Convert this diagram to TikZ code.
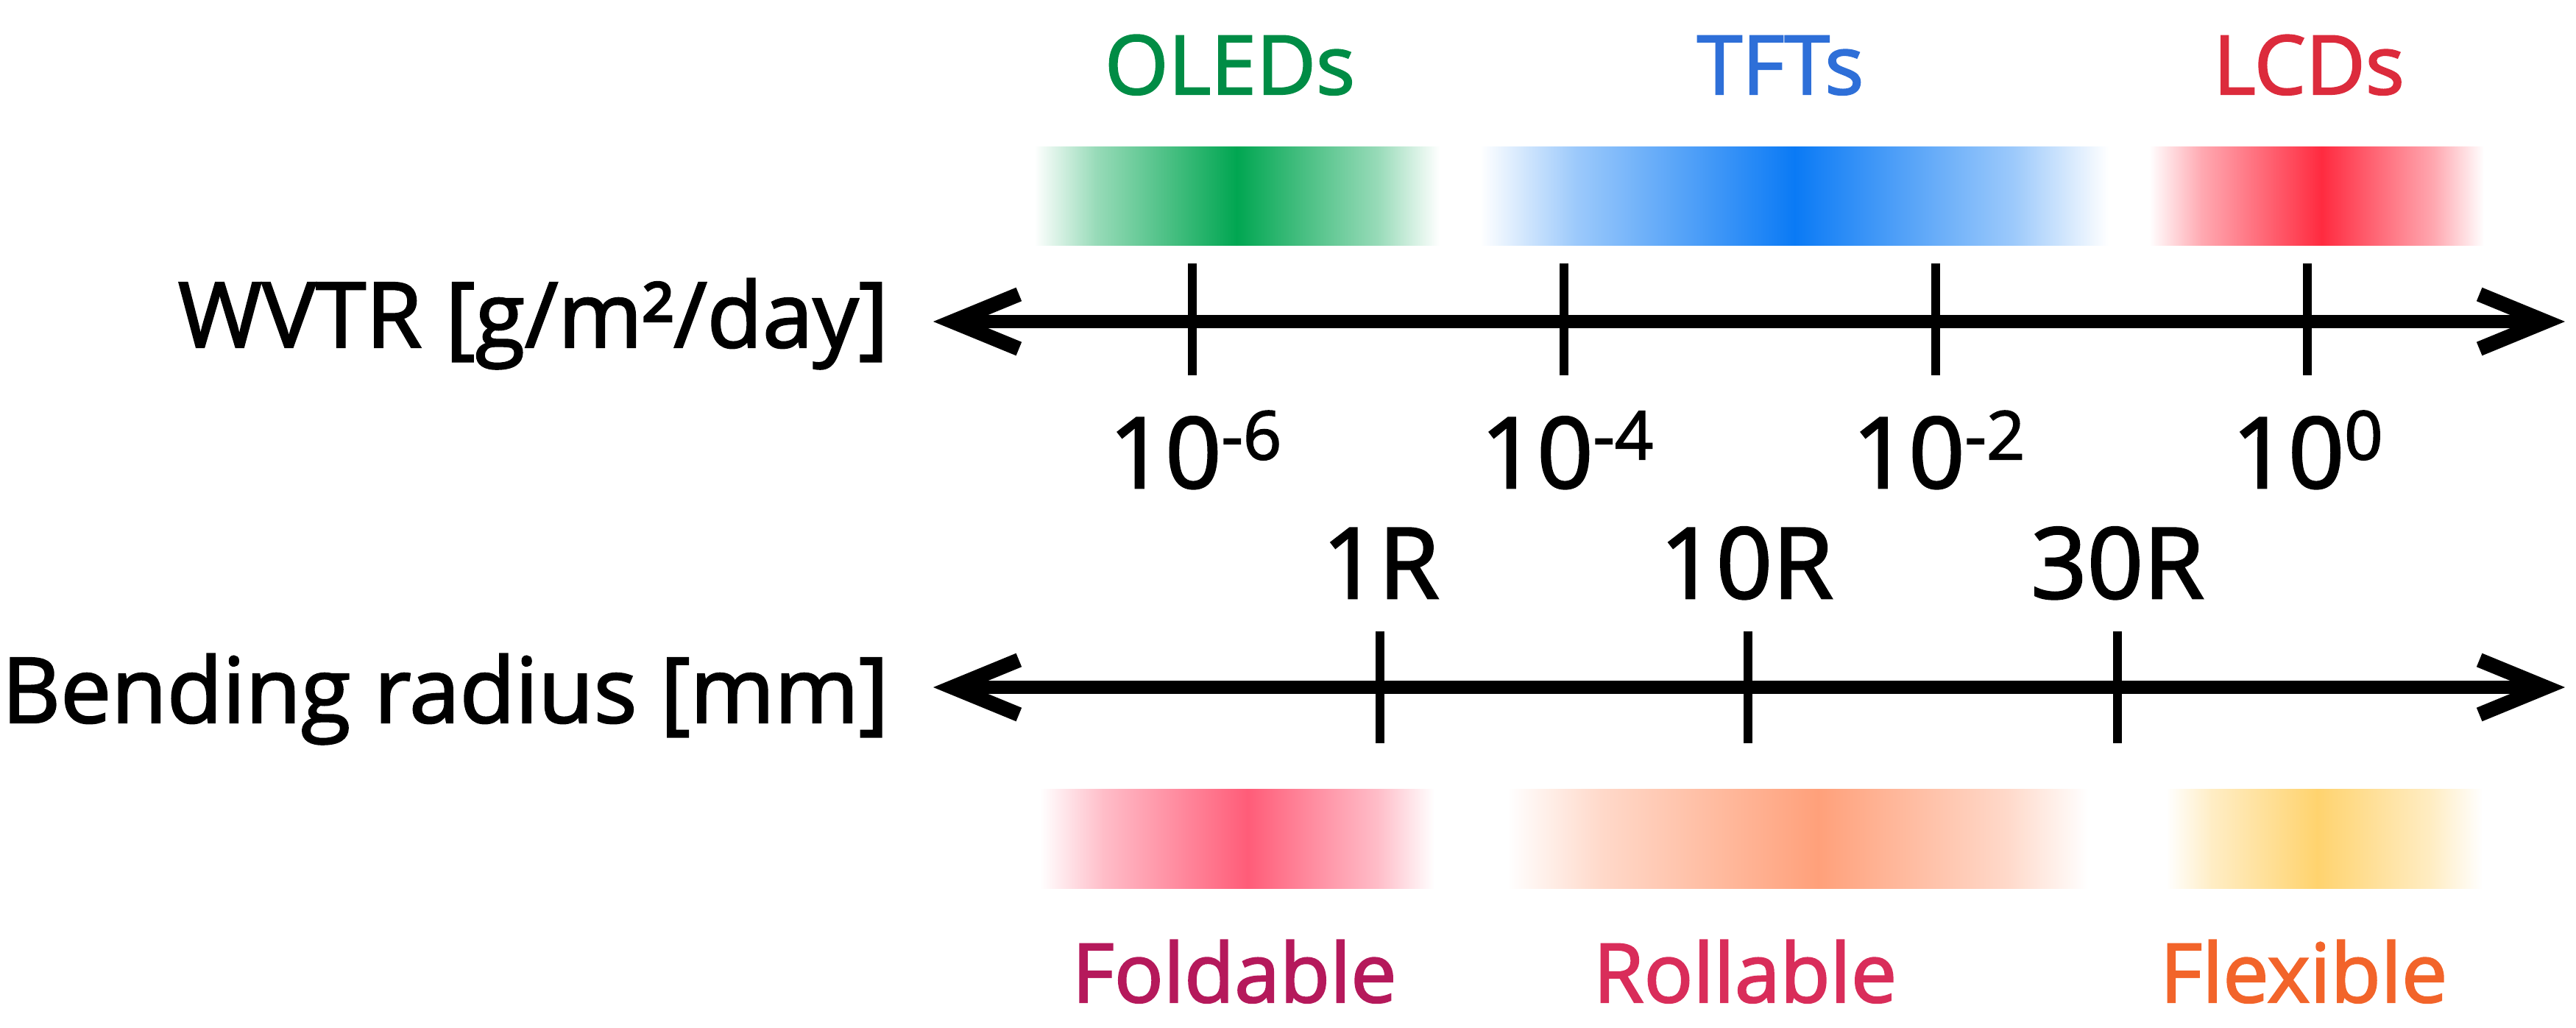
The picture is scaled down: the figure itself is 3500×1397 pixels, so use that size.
\documentclass[tikz,border=0pt]{standalone}
\usepackage{fontspec}
\setmainfont{Open Sans}[FakeBold=2]
\usetikzlibrary{arrows.meta}
\definecolor{oledT}{HTML}{008C45}
\definecolor{tftT}{HTML}{2E6FD8}
\definecolor{lcdT}{HTML}{DC2B3C}
\definecolor{foldT}{HTML}{B5195B}
\definecolor{rollT}{HTML}{D92D5A}
\definecolor{flexT}{HTML}{F2642A}
\definecolor{oledB}{HTML}{00A651}
\definecolor{tftB}{HTML}{0A7AF5}
\definecolor{lcdB}{HTML}{FF2A3F}
\definecolor{foldB}{HTML}{FF5C78}
\definecolor{rollB}{HTML}{FFA07A}
\definecolor{flexB}{HTML}{FFD36E}
% #1 x0, #2 xpeak, #3 x1, #4 y0, #5 y1, #6 colour
\newcommand\mybar[6]{%
  \path[left color=white, right color=#6!40] (#1,#4) rectangle ({#1+0.3*(#2-#1)+1},#5);
  \path[left color=#6!40, right color=#6] ({#1+0.3*(#2-#1)},#4) rectangle ({#2+1},#5);
  \path[left color=#6, right color=#6!40] (#2,#4) rectangle ({#3-0.3*(#3-#2)+1},#5);
  \path[left color=#6!40, right color=white] ({#3-0.3*(#3-#2)},#4) rectangle (#3,#5);
}
\newcommand\supx[1]{\raisebox{11pt}{\fontsize{26}{26}\selectfont #1}}
\begin{document}
\begin{tikzpicture}[x=0.01cm,y=-0.01cm,
  barb/.tip={Straight Barb[length=0.9cm,width=0.74cm,line width=0.2cm]},
  axisline/.style={line width=0.18cm,barb-barb},
  tickline/.style={line width=0.12cm},
  catlabel/.style={inner sep=0,anchor=base,font=\fontsize{31.6}{36}\selectfont},
  ticklabel/.style={inner sep=0,anchor=base,font=\fontsize{38}{44}\selectfont},
  axislabel/.style={inner sep=0,anchor=base east,font=\fontsize{35}{40}\selectfont}]
\useasboundingbox (0,0) rectangle (3500,1397);

% colour bars (top)
\mybar{1405}{1680}{1956}{200}{333}{oledB}
\mybar{2011}{2438}{2865}{200}{333}{tftB}
\mybar{2920}{3154}{3375}{200}{333}{lcdB}
% colour bars (bottom)
\mybar{1413}{1695}{1949}{1072}{1207}{foldB}
\mybar{2048}{2470}{2837}{1072}{1207}{rollB}
\mybar{2943}{3148}{3373}{1072}{1207}{flexB}

% category labels
\node[catlabel,text=oledT] (oled) at (1671,128) {OLEDs};
\node[catlabel,text=tftT]  (tft)  at (2419,128) {TFTs};
\node[catlabel,text=lcdT]  (lcd)  at (3137,128) {LCDs};
\node[catlabel,text=foldT] (fold) at (1677,1362) {Foldable};
\node[catlabel,text=rollT] (roll) at (2371,1362) {Rollable};
\node[catlabel,text=flexT] (flex) at (3130,1362) {Flexible};

% WVTR axis
\coordinate (wL) at (1268,437);
\coordinate (wR) at (3485,437);
\draw[axisline] (wL) -- (wR);
\foreach \n/\x in {a/1620,b/2125,c/2630,d/3135}{
  \coordinate (wt\n1) at (\x,358);
  \coordinate (wt\n2) at (\x,510);
  \draw[tickline] (wt\n1) -- (wt\n2);
}
\node[axislabel] (wvtr) at (1208,472) {WVTR [g/m²/day]};
\node[ticklabel] (w6) at (1624,663) {10\supx{-6}};
\node[ticklabel] (w4) at (2129,663) {10\supx{-4}};
\node[ticklabel] (w2) at (2634,663) {10\supx{-2}};
\node[ticklabel] (w0) at (3135,663) {10\supx{0}};

% bending axis
\coordinate (bL) at (1268,934);
\coordinate (bR) at (3485,934);
\draw[axisline] (bL) -- (bR);
\foreach \n/\x in {a/1875,b/2375,c/2877}{
  \coordinate (bt\n1) at (\x,858);
  \coordinate (bt\n2) at (\x,1010);
  \draw[tickline] (bt\n1) -- (bt\n2);
}
\node[axislabel] (bend) at (1208,982) {Bending radius [mm]};
\node[ticklabel] (r1)  at (1876,813) {1R};
\node[ticklabel] (r10) at (2373,813) {10R};
\node[ticklabel] (r30) at (2877,813) {30R};
\end{tikzpicture}
\end{document}
